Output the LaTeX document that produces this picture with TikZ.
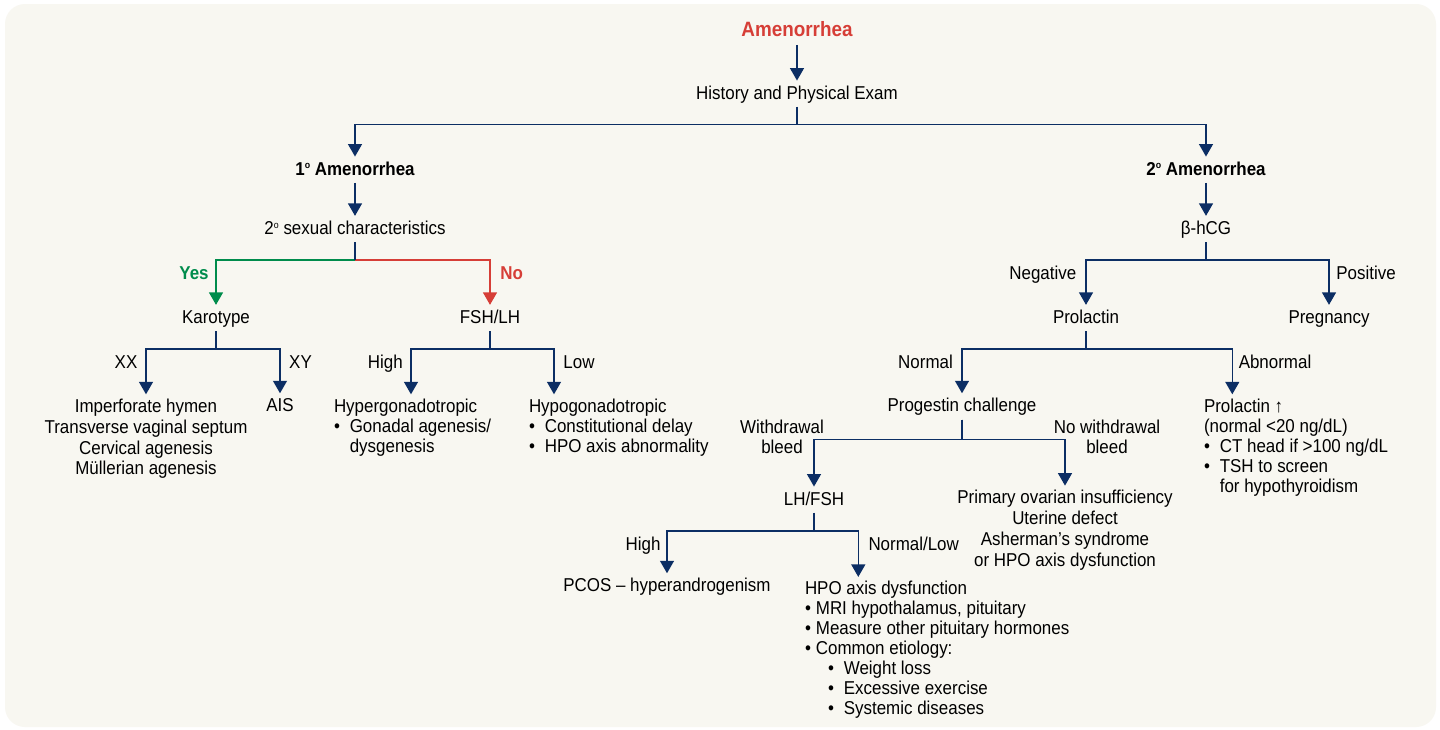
\documentclass[tikz,border=0pt]{standalone}
\usepackage{fontspec}
\setmainfont{Liberation Sans}[FakeStretch=0.91]
\usepackage{xcolor}
\usepackage{tikz}
\usetikzlibrary{arrows.meta}
\definecolor{amnavy}{RGB}{12,46,100}
\definecolor{amred}{RGB}{214,62,55}
\definecolor{amgreen}{RGB}{0,140,76}
\definecolor{amcream}{RGB}{248,247,241}
\newcommand{\itm}{\makebox[9pt][l]{•}}
\newcommand{\dotit}{\makebox[6.2pt][l]{•}}
\newcommand{\subit}{\hspace*{13.2pt}\makebox[8.9pt][l]{•}}
\newcommand{\degsup}{\raisebox{0.62ex}{\fontsize{5.5pt}{5.5pt}\selectfont o}}

\begin{document}
\begin{tikzpicture}[x=0.02cm, y=-0.02cm,
    every node/.style={font=\fontsize{10.6pt}{11.9pt}\selectfont, inner sep=0pt, outer sep=0pt},
    lbl/.style={anchor=base, text height=8pt, text depth=2.5pt},
    head/.style={lbl, font=\fontsize{10.6pt}{11.9pt}\selectfont\bfseries},
    blk/.style={anchor=north, align=center},
    lst/.style={anchor=north west, align=left, font=\fontsize{10.6pt}{11.4pt}\selectfont},
    link/.style={amnavy, line width=0.75pt, shorten <=2pt, shorten >=2.5pt,
      -{Triangle[width=0.28cm, length=0.25cm]}}]
  \fill[white] (0,0) rectangle (1440,730);
  \fill[amcream, rounded corners=0.4cm] (5,4) rectangle (1436,727);
  \useasboundingbox (0,0) rectangle (1440,730);

  \node[lbl, font=\fontsize{11.8pt}{13pt}\selectfont\bfseries, text=amred, text depth=3pt] (ttl) at (797,36) {Amenorrhea};
  \node[lbl] (hpe) at (797,99) {History and Physical Exam};
  \node[head] (am1) at (355,175) {1\degsup\ Amenorrhea};
  \node[head] (am2) at (1206,175) {2\degsup\ Amenorrhea};
  \node[lbl] (sex) at (355,234.3) {2\degsup\ sexual characteristics};
  \node[lbl] (bhcg) at (1206,234.3) {β-hCG};
  \node[head, text=amgreen] (yes) at (194,279.3) {Yes};
  \node[head, text=amred] (no) at (511.7,279.3) {No};
  \node[lbl] (neg) at (1042.8,279.3) {Negative};
  \node[lbl] (pos) at (1366,279.3) {Positive};
  \node[lbl] (kar) at (216,323.3) {Karotype};
  \node[lbl] (fsh) at (490,323.3) {FSH/LH};
  \node[lbl] (prl) at (1086,323.3) {Prolactin};
  \node[lbl] (preg) at (1329,323.3) {Pregnancy};
  \node[lbl] (xx) at (126,368.3) {XX};
  \node[lbl] (xy) at (300.5,368.3) {XY};
  \node[lbl] (hi1) at (385.3,368.3) {High};
  \node[lbl] (lo1) at (579,368.3) {Low};
  \node[lbl] (nrm) at (925.5,368.3) {Normal};
  \node[lbl] (abn) at (1275,368.3) {Abnormal};
  \node[blk] (xxl) at (146,398.7) {Imperforate hymen\\Transverse vaginal septum\\Cervical agenesis\\Müllerian agenesis};
  \node[lbl] (ais) at (280,411.7) {AIS};
  \node[lst] (hyper) at (334,398.7) {Hypergonadotropic\\\itm Gonadal agenesis/\\\hspace*{9pt}dysgenesis};
  \node[lst] (hypo) at (529,398.7) {Hypogonadotropic\\\itm Constitutional delay\\\itm HPO axis abnormality};
  \node[lbl] (prog) at (962,411.7) {Progestin challenge};
  \node[lst] (pru) at (1204,398.7) {Prolactin ↑\\(normal <20 ng/dL)\\\itm CT head if >100 ng/dL\\\itm TSH to screen\\\hspace*{9pt}for hypothyroidism};
  \node[blk, font=\fontsize{10.6pt}{11.4pt}\selectfont] (wdl) at (782,420.3) {Withdrawal\\bleed};
  \node[blk, font=\fontsize{10.6pt}{11.4pt}\selectfont] (nwdl) at (1107,420.3) {No withdrawal\\bleed};
  \node[lbl] (lhfsh) at (814,505) {LH/FSH};
  \node[blk] (pov) at (1065,490) {Primary ovarian insufficiency\\Uterine defect\\Asherman’s syndrome\\or HPO axis dysfunction};
  \node[lbl] (hi2) at (643,550) {High};
  \node[lbl] (nlo) at (913.7,550) {Normal/Low};
  \node[lbl] (pcos) at (667,591.7) {PCOS – hyperandrogenism};
  \node[lst] (hpo) at (805,581.3) {HPO axis dysfunction\\\dotit MRI hypothalamus, pituitary\\\dotit Measure other pituitary hormones\\\dotit Common etiology:\\\subit Weight loss\\\subit Excessive exercise\\\subit Systemic diseases};

  \coordinate (hyT) at ([xshift=1.54cm]hyper.north west);
  \coordinate (hoT) at ([xshift=0.5cm]hypo.north west);
  \coordinate (pruT) at ([xshift=0.566cm]pru.north west);
  \coordinate (hpoT) at ([xshift=1.066cm]hpo.north west);
  \coordinate (sj) at (sex.south |- 0,260);

  \foreach \a/\b in {ttl/hpe, am1/sex, am2/bhcg} \draw[link] (\a.south) -- (\b.north);
  \foreach \p/\y/\c in {hpe/124.7/am1.north, hpe/124.7/am2.north, kar/349/xxl.north, kar/349/ais.north,
      fsh/349/hyT, fsh/349/hoT, bhcg/260/prl.north, bhcg/260/preg.north, prl/349/prog.north, prl/349/pruT,
      prog/439.3/lhfsh.north, prog/439.3/pov.north, lhfsh/531/pcos.north, lhfsh/531/hpoT}
    \draw[link] (\p.south) -- (\p.south |- 0,\y) -| (\c);
  \draw[link, amgreen, shorten <=0pt] (sj) -| (kar.north);
  \draw[link, amred, shorten <=0pt] (sj) -| (fsh.north);
  \draw[link, -, shorten >=0pt] (sex.south) -- (sj);
\end{tikzpicture}
\end{document}
